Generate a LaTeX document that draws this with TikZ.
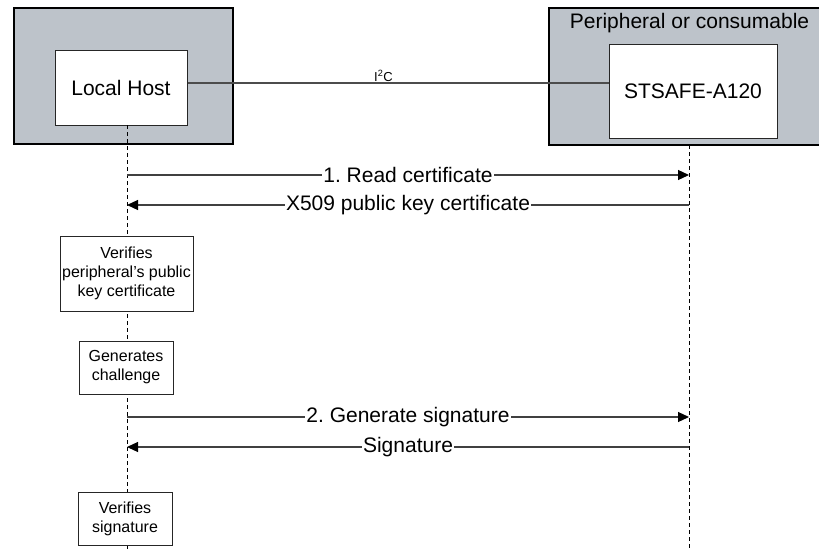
\documentclass[tikz,border=0pt]{standalone}
\usepackage{fontspec}
\setmainfont{Liberation Sans}
\usetikzlibrary{arrows.meta}
\definecolor{outerfill}{HTML}{BDC3CA}
\frenchspacing
\begin{document}
\begin{tikzpicture}[x=1pt,y=-1pt,
 outerbox/.style={draw=black, line width=2pt, fill=outerfill},
 innerbox/.style={draw=black!85, line width=1pt, fill=white, inner sep=0pt, font=\fontsize{21}{24}\selectfont},
 stepbox/.style={draw=black!85, line width=0.8pt, fill=white, align=center, inner sep=0pt, font=\fontsize{16}{19}\selectfont},
 lifeline/.style={draw=black, line width=0.8pt, dash pattern=on 4pt off 3pt},
 msg/.style={draw=black!75, line width=1.2pt},
 msgarrow/.style={msg, -{Triangle[length=11pt,width=10pt,color=black]}},
 lbl/.style={fill=white, inner sep=1pt, font=\fontsize{21}{24}\selectfont}
]
\useasboundingbox (0,0) rectangle (819,549);
% outer boxes
\path[outerbox] (14,8) rectangle (233,144);
\path[outerbox] (549,8) rectangle (821,145);
\node[anchor=base, font=\fontsize{21}{24}\selectfont] (title) at (689.5,28) {Peripheral or consumable};
% inner boxes
\node[innerbox, minimum width=132pt, minimum height=75pt] (lh) at (121,87.5) {Local Host};
\node[innerbox, minimum width=168pt, minimum height=94pt] (st) at (693,91) {STSAFE-A120};
% I2C link
\coordinate (i2cy) at (0,83);
\draw[draw=black!70, line width=1.2pt] (lh.east |- i2cy) -- (st.west |- i2cy);
\node[anchor=base, font=\fontsize{13}{15}\selectfont, inner sep=0pt] (i2c) at (383.5,81) {I\textsuperscript{2}C};
% lifelines
\coordinate (ltop) at (127,125);
\coordinate (lbot) at (127,549);
\coordinate (rtop) at (689,145);
\coordinate (rbot) at (689,549);
\draw[lifeline] (ltop) -- (lbot);
\draw[lifeline] (rtop) -- (rbot);
% step boxes
\node[stepbox, minimum width=133pt, minimum height=75pt] (v1) at (126.5,273.5) {Verifies\\peripheral’s public\\key certificate};
\node[stepbox, minimum width=94pt, minimum height=53pt] (gc) at (126,367.5) {Generates\\challenge};
\node[stepbox, minimum width=94pt, minimum height=53pt] (vs) at (125,518.5) {Verifies\\signature};
% messages
\coordinate (m1l) at (127,175); \coordinate (m1r) at (689,175);
\coordinate (m2l) at (127,205); \coordinate (m2r) at (689,205);
\coordinate (m3l) at (127,417); \coordinate (m3r) at (689,417);
\coordinate (m4l) at (127,447); \coordinate (m4r) at (689,447);
\draw[msgarrow] (m1l) -- node[lbl] (t1) {1. Read certificate} (m1r);
\draw[msgarrow] (m2r) -- node[lbl] (t2) {X509 public key certificate} (m2l);
\draw[msgarrow] (m3l) -- node[lbl] (t3) {2. Generate signature} (m3r);
\draw[msgarrow] (m4r) -- node[lbl] (t4) {Signature} (m4l);
\end{tikzpicture}
\end{document}
